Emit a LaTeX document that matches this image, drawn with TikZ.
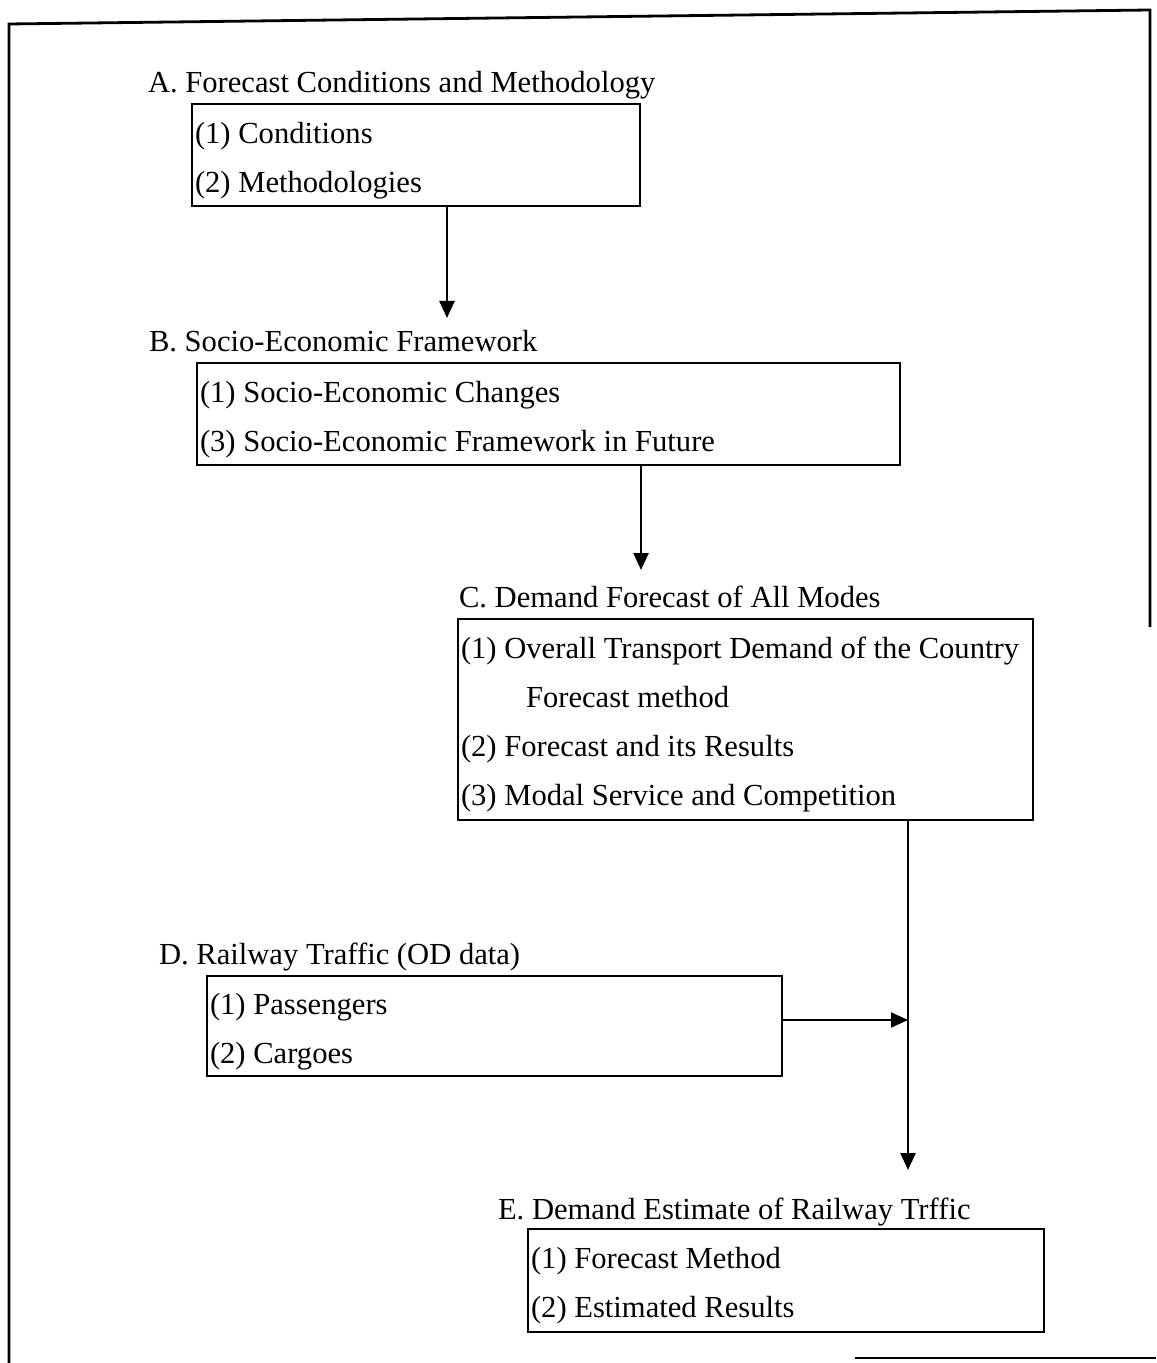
\documentclass[tikz,border=0pt]{standalone}
\usepackage{fontspec}
\setmainfont{Liberation Serif}
\usetikzlibrary{arrows.meta}

\begin{document}
\begin{tikzpicture}[x=0.5pt,y=-0.5pt,line width=1pt,>={Triangle[length=8.5pt,width=7.5pt]}]

  \tikzstyle{itembox}=[draw=black,shape=rectangle,anchor=north west,align=flush left,inner xsep=1.5pt,inner ysep=0pt,font=\fontsize{15.3}{24.5}\selectfont,execute at begin node={\rule{0pt}{16pt}}]
  \tikzstyle{headnode}=[anchor=base west,inner sep=0pt,font=\fontsize{15.3}{18}\selectfont]
  \tikzstyle{flow}=[->,line width=1.3pt]

  \useasboundingbox (0,0) rectangle (1156,1363);

  % page frame
  \draw[line width=1.4pt] (9,1363) -- (9,24) -- (1150,10) -- (1150,627);
  \draw (855,1358) -- (1156,1358);

  \node[headnode] (headA) at (147,93)  {A. Forecast Conditions and Methodology};
  \node[itembox,minimum width=224pt,minimum height=51pt,text width=221pt] (boxA) at (191,103)
    {(1) Conditions\\(2) Methodologies};

  \node[headnode] (headB) at (148,352) {B. Socio-Economic Framework};
  \node[itembox,minimum width=351.5pt,minimum height=51pt,text width=348.5pt] (boxB) at (196,362)
    {(1) Socio-Economic Changes\\(3) Socio-Economic Framework in Future};

  \node[headnode] (headC) at (458,607) {C. Demand Forecast of All Modes};
  \node[itembox,minimum width=287.5pt,minimum height=100.5pt,text width=284.5pt] (boxC) at (457,618)
    {(1) Overall Transport Demand of the Country\\\hspace*{32.5pt}Forecast method\\(2) Forecast and its Results\\(3) Modal Service and Competition};

  \node[headnode] (headD) at (158,964) {D. Railway Traffic (OD data)};
  \node[itembox,minimum width=287.5pt,minimum height=50pt,text width=284.5pt] (boxD) at (206,975)
    {(1) Passengers\\(2) Cargoes};

  \node[headnode] (headE) at (497,1219) {E. Demand Estimate of Railway Trffic};
  \node[itembox,minimum width=258pt,minimum height=51.5pt,text width=255pt] (boxE) at (527,1228)
    {(1) Forecast Method\\(2) Estimated Results};

  % connectors
  \coordinate (tipB) at (447,318);
  \coordinate (tipC) at (641,570);
  \coordinate (tipE) at (908,1170);
  \coordinate (join) at (908,1020);

  \draw[flow] (boxA.south -| tipB) -- (tipB);
  \draw[flow] (boxB.south -| tipC) -- (tipC);
  \draw[flow] (boxC.south -| tipE) -- (tipE);
  \draw[->] (boxD.east |- join) -- (join);
\end{tikzpicture}
\end{document}
